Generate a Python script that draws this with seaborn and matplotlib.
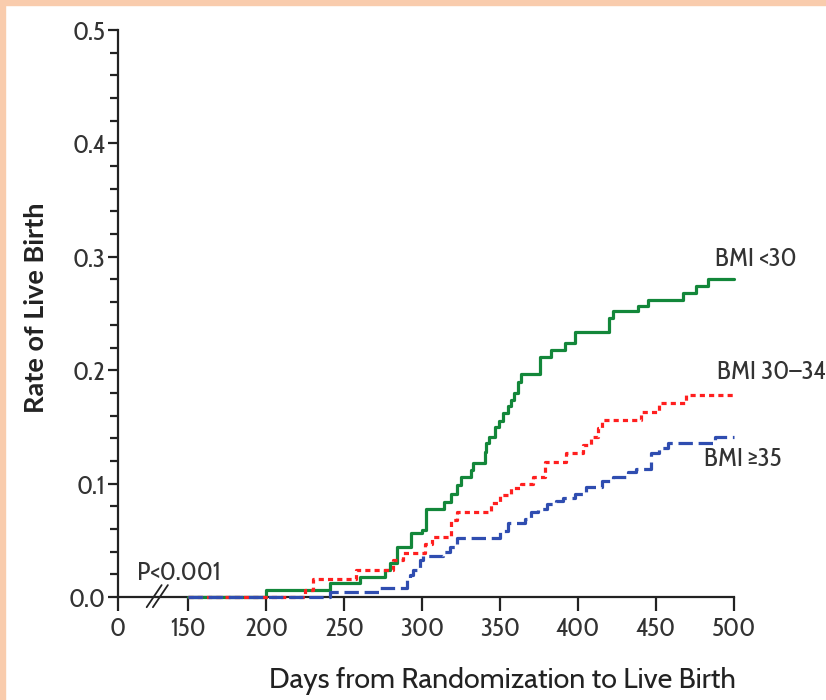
import numpy as np
import pandas as pd
import matplotlib as mpl
import matplotlib.pyplot as plt
import seaborn as sns

# data (days, cumulative rate)
green_days = [150, 200, 241, 260, 276, 279, 283.5, 293, 300, 302.7, 314, 318.7, 322, 325, 331.5, 332.5,
              340, 341, 343, 346.5, 349, 351.8, 355, 357, 359, 361.4, 363.6, 375.3, 382.8, 391.3, 397.8,
              420, 422.3, 438.3, 444.7, 467, 475.8, 483, 500]
green_rate = [0, 0.006, 0.012, 0.018, 0.024, 0.030, 0.044, 0.056, 0.059, 0.078, 0.084, 0.091, 0.099, 0.106, 0.112, 0.118,
              0.128, 0.136, 0.141, 0.150, 0.155, 0.162, 0.168, 0.174, 0.180, 0.190, 0.197, 0.212, 0.218, 0.224, 0.234,
              0.246, 0.252, 0.257, 0.262, 0.268, 0.274, 0.280, 0.280]

red_days = [150, 224.7, 230, 257.8, 281, 287.5, 301.6, 306, 318.7, 322, 344.4, 349.7, 357, 363.6, 371, 378.5,
            392.4, 403, 408.5, 412.7, 415, 440.5, 452, 469.4, 500]
red_rate = [0, 0.006, 0.016, 0.024, 0.033, 0.039, 0.047, 0.053, 0.068, 0.075, 0.083, 0.090, 0.096, 0.100, 0.106, 0.119,
            0.127, 0.134, 0.141, 0.149, 0.156, 0.163, 0.171, 0.178, 0.178]

blue_days = [150, 240.7, 272.8, 289.9, 292, 294, 298.4, 300.5, 313.3, 317.6, 322, 349.7, 355, 365.7, 370, 374.2,
             380, 386, 390, 397.8, 405.3, 415, 422.3, 432, 437.3, 447, 452, 457.6, 487.5, 500]
blue_rate = [0, 0.004, 0.008, 0.015, 0.019, 0.024, 0.033, 0.036, 0.040, 0.044, 0.052, 0.058, 0.065, 0.069, 0.075, 0.078,
             0.082, 0.085, 0.087, 0.091, 0.097, 0.102, 0.106, 0.110, 0.113, 0.127, 0.131, 0.136, 0.141, 0.141]

groups = ["BMI <30", "BMI 30\u201334", "BMI \u226535"]
x_ticks = [150, 200, 250, 300, 350, 400, 450, 500]
y_ticks = [0.0, 0.1, 0.2, 0.3, 0.4, 0.5]

df = pd.concat([
    pd.DataFrame({"day": green_days, "rate": green_rate, "group": groups[0]}),
    pd.DataFrame({"day": red_days, "rate": red_rate, "group": groups[1]}),
    pd.DataFrame({"day": blue_days, "rate": blue_rate, "group": groups[2]}),
])

NARROW = ["Cabin Condensed", "DejaVu Sans"]
WIDE = ["Cabin", "Liberation Sans", "DejaVu Sans"]
BOLD = ["Lato", "Liberation Sans", "DejaVu Sans"]

sns.set_theme(style="ticks")
plt.rcParams["font.family"] = NARROW

fig = plt.figure(figsize=(8.26, 7), dpi=100)
ax = fig.add_axes([118/826, 1 - 597/700, (734 - 118)/826, (597 - 30)/700])

palette = {groups[0]: "#13873a", groups[1]: "#ff1f1f", groups[2]: "#2f4db0"}
dashes = {groups[0]: "", groups[1]: (1.6, 1.3), groups[2]: (4.5, 1.8)}
sns.lineplot(data=df, x="day", y="rate", hue="group", style="group", palette=palette, dashes=dashes,
             estimator=None, drawstyle="steps-post", lw=2.3, legend=False, ax=ax, clip_on=False)

x0 = 104.8
ax.set_xlim(x0, 500)
ax.set_ylim(0, 0.5)
ax.set_xticks([x0] + x_ticks)
ax.set_xticklabels(["0"] + [str(t) for t in x_ticks])
ax.set_yticks(y_ticks)
ax.set_yticklabels(["%0.1f" % t for t in y_ticks])
ax.yaxis.set_minor_locator(mpl.ticker.MultipleLocator(0.02))

for s in ["top", "right"]:
    ax.spines[s].set_visible(False)
for s in ["left", "bottom"]:
    ax.spines[s].set_linewidth(1.6)
    ax.spines[s].set_color("#222222")
    ax.spines[s].set_zorder(1)
ax.tick_params(axis="x", length=10, width=1.6, color="#222222", labelsize=19, labelcolor="#333333", pad=4)
ax.tick_params(axis="y", which="major", length=7, width=1.6, color="#222222", labelsize=19, labelcolor="#333333", pad=2)
ax.tick_params(axis="y", which="minor", length=5.5, width=1.6, color="#222222")
ax.set_xlabel("")
ax.set_ylabel("")

# axis break marks
tr = ax.get_xaxis_transform()
for dx in (0, 4):
    ax.plot([123.2 + dx, 132.8 + dx], [-0.018, 0.021], color="#222222", lw=1.3, transform=tr, clip_on=False)

# curve labels
ax.text(487.5, 0.298, groups[0], fontsize=19, color="#333333", va="center", ha="left", clip_on=False)
ax.text(488.8, 0.198, groups[1], fontsize=19, color="#333333", va="center", ha="left", clip_on=False)
ax.text(481, 0.122, groups[2], fontsize=19, color="#333333", va="center", ha="left", clip_on=False)
ax.text(117, 0.021, "P<0.001", fontsize=19, color="#333333", va="center", ha="left")

fig.text(502/826, 1 - 681/700, "Days from Randomization to Live Birth", fontsize=20.5, color="#222222",
         ha="center", va="center", family=WIDE)
fig.text(36/826, 1 - 308/700, "Rate of Live Birth", fontsize=19.5, fontweight="bold", color="#222222",
         rotation=90, ha="center", va="center", family=BOLD)

# peach frame on top and left
fig.patches.append(mpl.patches.Rectangle((0, 1 - 5/700), 1, 5/700, transform=fig.transFigure, color="#f9ccad"))
fig.patches.append(mpl.patches.Rectangle((0, 0), 5/826, 1, transform=fig.transFigure, color="#f9ccad"))

fig.savefig("out.png", dpi=100)
